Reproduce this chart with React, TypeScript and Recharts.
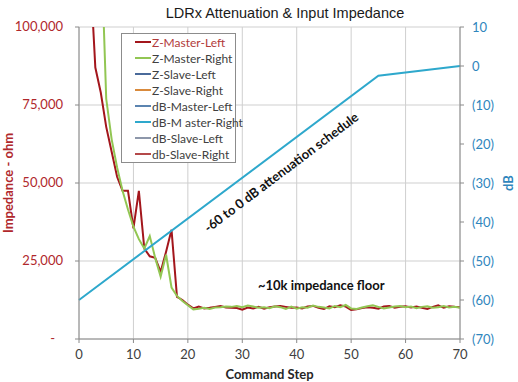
import { CartesianGrid, ComposedChart, Line, XAxis, YAxis } from 'recharts';

// command steps 0..70
const steps = [
  0, 1, 2, 3, 4, 5, 6, 7, 8, 9, 10, 11, 12, 13, 14, 15, 16, 17, 18, 19, 20,
  21, 22, 23, 24, 25, 26, 27, 28, 29, 30, 31, 32, 33, 34, 35, 36, 37, 38, 39, 40,
  41, 42, 43, 44, 45, 46, 47, 48, 49, 50, 51, 52, 53, 54, 55, 56, 57, 58, 59, 60,
  61, 62, 63, 64, 65, 66, 67, 68, 69, 70,
];

// impedance in ohm (first points run above the 100k axis top)
const zMasterLeft = [
  200000, 160000, 120000, 87000, 79000, 68000, 60000, 52000, 47500, 47500, 35500,
  47500, 29000, 26500, 26000, 21500, 28000, 35000, 13500, 12500, 11000,
  9800, 10400, 9800, 10000, 10300, 10600, 10100, 10000, 9900, 9400,
  10100, 9800, 10300, 9700, 10200, 10400, 10600, 10300, 10000, 10100,
  9800, 10400, 10600, 10000, 9600, 10500, 10200, 10800, 10400, 9300,
  9500, 9900, 10200, 10000, 9700, 10400, 10600, 10000, 10300, 10500,
  10100, 10400, 10000, 9600, 10300, 10800, 10000, 10500, 10300, 10200,
];

const zMasterRight = [
  260000, 220000, 180000, 150000, 130000, 77000, 64000, 55000, 47500, 41500, 36000,
  32000, 29000, 33000, 26000, 20000, 27000, 16500, 13800, 12200, 10800,
  9500, 9700, 10000, 9600, 10100, 10200, 10400, 10300, 10600, 10200,
  10700, 10400, 10000, 10200, 9900, 10500, 10200, 9600, 10400, 9700,
  10200, 10000, 10700, 10300, 10100, 9800, 10600, 10200, 10900, 9800,
  9600, 10100, 10500, 10800, 10300, 9800, 10100, 10400, 10600, 10200,
  10400, 9900, 10300, 10500, 10000, 10200, 10600, 10100, 10300, 10000,
];

// attenuation schedule breakpoints (dB)
const dbSteps = [0, 55, 70];
const dbMasterRight = [-60, -2.5, 0];

const zTicks = [0, 25000, 50000, 75000, 100000];
const dbTicks = [-70, -60, -50, -40, -30, -20, -10, 0, 10];
const stepTicks = [0, 10, 20, 30, 40, 50, 60, 70];

const legendNames = [
  'Z-Master-Left',
  'Z-Master-Right',
  'Z-Slave-Left',
  'Z-Slave-Right',
  'dB-Master-Left',
  'dB-M aster-Right',
  'dB-Slave-Left',
  'db-Slave-Right',
];

const RED = '#a3161c';
const GREEN = '#92c653';
const CYAN = '#2ea8cc';
const AXIS_RED = '#b0282c';
const AXIS_BLUE = '#2f86bd';
const AXIS = '#8a8a8a';

const legendColors: Record<string, string> = {
  'Z-Master-Left': RED,
  'Z-Master-Right': GREEN,
  'Z-Slave-Left': '#4a6a9a',
  'Z-Slave-Right': '#d98a3c',
  'dB-Master-Left': '#5b84b0',
  'dB-M aster-Right': CYAN,
  'dB-Slave-Left': '#8d97aa',
  'db-Slave-Right': '#b4494a',
};

const rows = steps.map((step, i) => {
  const k = dbSteps.indexOf(step);
  return {
    step,
    zml: zMasterLeft[i],
    zmr: zMasterRight[i],
    db: k >= 0 ? dbMasterRight[k] : null,
  };
});

const ZTick = ({ x, y, payload }: any) => (
  <text
    x={payload.value === 0 ? x - 8 : x}
    y={y}
    dy={4}
    textAnchor="end"
    fill={AXIS_RED}
    fontSize={13}
  >
    {payload.value === 0 ? '-' : payload.value.toLocaleString('en-US')}
  </text>
);

const dbFormat = (v: number) => (v < 0 ? `(${-v})` : `${v}`);

const ChartLegend = () => (
  <div
    style={{
      position: 'absolute',
      left: 121,
      top: 33,
      width: 113,
      height: 128,
      border: '1px solid #8c8c8c',
      background: '#fff',
      fontSize: 12,
      whiteSpace: 'nowrap',
    }}
  >
    {legendNames.map((name, i) => (
      <div
        key={name}
        style={{ display: 'flex', alignItems: 'center', height: 16 }}
      >
        <span
          style={{
            display: 'inline-block',
            flex: 'none',
            marginLeft: 13,
            width: 16,
            height: 2,
            background: legendColors[name],
          }}
        />
        <span style={{ marginLeft: 1, color: i === 0 ? '#b23a3a' : '#404040' }}>
          {name}
        </span>
      </div>
    ))}
  </div>
);

export default function App() {
  return (
    <div
      style={{
        position: 'absolute',
        left: 0,
        top: 0,
        width: 518,
        height: 382,
        background: '#fff',
        fontFamily: 'Lato, sans-serif',
      }}
    >
      <ComposedChart
        width={518}
        height={382}
        data={rows}
        margin={{ top: 27, right: 10, bottom: 0, left: 0 }}
      >
        <CartesianGrid stroke="#cfcfcf" />
        <XAxis
          dataKey="step"
          type="number"
          domain={[0, 70]}
          ticks={stepTicks}
          height={43}
          tickSize={4}
          tickMargin={7}
          stroke={AXIS}
          tick={{ fill: '#404040', fontSize: 13 }}
          label={{
            value: 'Command Step',
            position: 'insideBottom',
            offset: 3,
            style: { fill: '#262626', fontWeight: 700, fontSize: 13 },
          }}
        />
        <YAxis
          type="number"
          domain={[0, 100000]}
          ticks={zTicks}
          allowDataOverflow
          width={79}
          tickSize={4}
          tickMargin={12}
          stroke={AXIS}
          tick={<ZTick />}
          label={{
            value: 'Impedance - ohm',
            angle: -90,
            position: 'insideLeft',
            offset: 8,
            style: { fill: AXIS_RED, fontWeight: 700, fontSize: 13, textAnchor: 'middle' },
          }}
        />
        <YAxis
          yAxisId="db"
          orientation="right"
          type="number"
          domain={[-70, 10]}
          ticks={dbTicks}
          width={48}
          tickSize={4}
          tickMargin={8}
          stroke={AXIS}
          tickFormatter={dbFormat}
          tick={{ fill: AXIS_BLUE, fontSize: 13 }}
          label={{
            value: 'dB',
            angle: -90,
            position: 'insideRight',
            offset: 0,
            style: { fill: AXIS_BLUE, fontWeight: 700, fontSize: 13, textAnchor: 'middle' },
          }}
        />
        <Line
          dataKey="zml"
          stroke={RED}
          strokeWidth={2}
          dot={false}
          isAnimationActive={false}
        />
        <Line
          dataKey="zmr"
          stroke={GREEN}
          strokeWidth={2}
          dot={false}
          isAnimationActive={false}
        />
        <Line
          dataKey="db"
          yAxisId="db"
          stroke={CYAN}
          strokeWidth={2}
          dot={false}
          connectNulls
          isAnimationActive={false}
        />
      </ComposedChart>
      <ChartLegend />
      <div
        style={{
          position: 'absolute',
          left: 0,
          width: 570,
          top: 5,
          textAlign: 'center',
          fontFamily: '"Liberation Sans", Arial, sans-serif',
          fontSize: 14.5,
          color: '#1a1a1a',
        }}
      >
        LDRx Attenuation &amp; Input Impedance
      </div>
      <div
        style={{
          position: 'absolute',
          left: 281,
          top: 172,
          transform: 'translate(-50%, -50%) rotate(-37deg)',
          whiteSpace: 'nowrap',
          fontWeight: 700,
          fontSize: 13,
          color: '#111',
        }}
      >
        -60 to 0 dB attenuation schedule
      </div>
      <div
        style={{
          position: 'absolute',
          left: 258,
          top: 277,
          whiteSpace: 'nowrap',
          fontWeight: 700,
          fontSize: 13,
          color: '#111',
        }}
      >
        ~10k impedance floor
      </div>
    </div>
  );
}
